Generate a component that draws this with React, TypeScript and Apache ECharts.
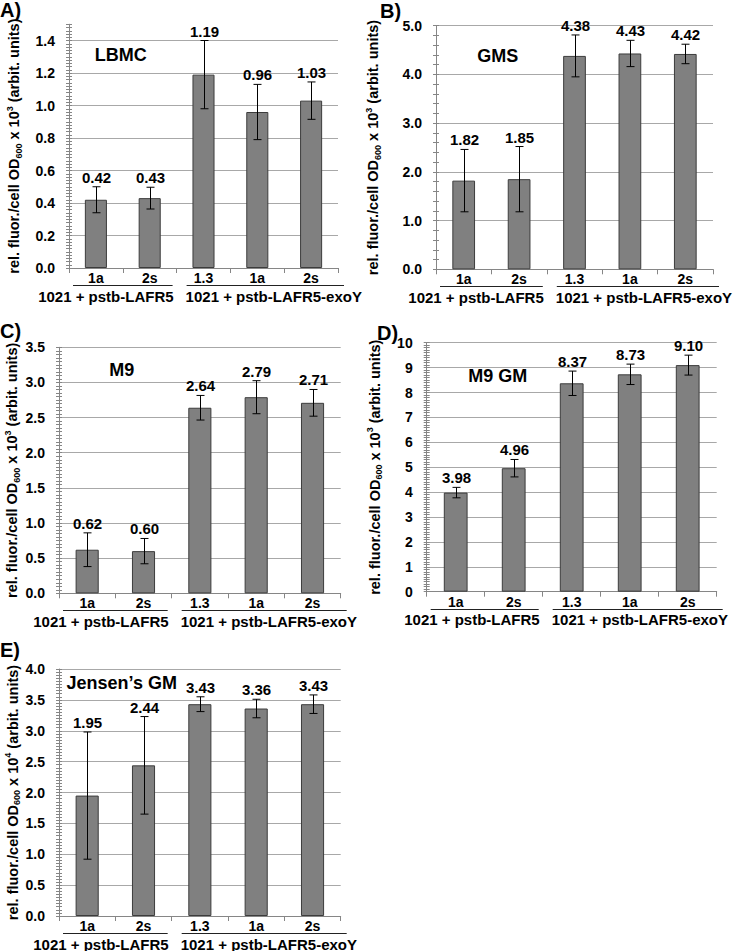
import React, { useEffect, useRef } from "react";
import * as echarts from "echarts";

// ---------- data ----------
const categories = ["1a", "2s", "1.3", "1a", "2s"];
const groupLabels = ["1021 + pstb-LAFR5", "1021 + pstb-LAFR5-exoY"];
const panelLetters = ["A)", "B)", "C)", "D)", "E)"];
const mediumNames = ["LBMC", "GMS", "M9", "M9 GM", "Jensen\u2019s GM"];

const lbmcValues = [0.42, 0.43, 1.19, 0.96, 1.03];
const lbmcErrors = [0.08, 0.067, 0.21, 0.17, 0.115];
const gmsValues = [1.82, 1.85, 4.38, 4.43, 4.42];
const gmsErrors = [0.64, 0.67, 0.43, 0.27, 0.2];
const m9Values = [0.62, 0.6, 2.64, 2.79, 2.71];
const m9Errors = [0.24, 0.18, 0.175, 0.235, 0.19];
const m9gmValues = [3.98, 4.96, 8.37, 8.73, 9.1];
const m9gmErrors = [0.21, 0.35, 0.49, 0.41, 0.4];
const jensenValues = [1.95, 2.44, 3.43, 3.36, 3.43];
const jensenErrors = [1.03, 0.79, 0.12, 0.15, 0.15];

const yMaxes = [1.5, 5, 3.5, 10, 4];
const yMajorSteps = [0.2, 1, 0.5, 1, 0.5];
const yMinorSteps = [0.02, 0.2, 0.05, 0.1, 0.05];
const yDecimals = [1, 1, 1, 0, 1];
const yExponents = ["3", "3", "3", "3", "4"];

const seriesValues = [lbmcValues, gmsValues, m9Values, m9gmValues, jensenValues];
const seriesErrors = [lbmcErrors, gmsErrors, m9Errors, m9gmErrors, jensenErrors];

// ---------- layout ----------
const FONT = '"Liberation Sans", Arial, Helvetica, sans-serif';
const AXIS_COLOR = "#868686";
const GRID_COLOR = "#a8a8a8";

const layouts = [
  { left: 69, top: 24.25, width: 269, height: 243.75, nameGap: 46, letter: [0, 10], title: [120.7, 55] },
  { left: 436, top: 25.7, width: 277, height: 243.6, nameGap: 54, letter: [380, 11], title: [497.7, 56] },
  { left: 59, top: 347.3, width: 281.7, height: 246, nameGap: 38, letter: [0, 331], title: [121.7, 370] },
  { left: 426.7, top: 342.7, width: 290, height: 249, nameGap: 43, letter: [377, 333], title: [497.7, 376] },
  { left: 59, top: 669, width: 281.7, height: 247, nameGap: 37, letter: [0, 650], title: [121.7, 683] },
];

function buildOption() {
  const grid: any[] = [];
  const xAxis: any[] = [];
  const yAxis: any[] = [];
  const series: any[] = [];
  const graphic: any[] = [];
  const ids = categories.map((_, i) => "c" + i);

  layouts.forEach((L, p) => {
    grid.push({ left: L.left, top: L.top, width: L.width, height: L.height, containLabel: false });
    xAxis.push({
      type: "category",
      gridIndex: p,
      data: ids,
      axisLine: { show: true, lineStyle: { color: AXIS_COLOR, width: 1 } },
      axisTick: { show: true, alignWithLabel: false, length: 5, lineStyle: { color: AXIS_COLOR } },
      axisLabel: {
        margin: 3,
        color: "#000",
        fontFamily: FONT,
        fontWeight: "bold",
        fontSize: 14,
        formatter: (_v: string, idx: number) => categories[idx],
      },
      splitLine: { show: false },
    });
    // main y axis: labels, gridlines, axis line
    yAxis.push({
      type: "value",
      gridIndex: p,
      position: "left",
      min: 0,
      max: yMaxes[p],
      interval: yMajorSteps[p],
      name: "rel. fluor./cell OD{sub|600} x 10{sup|" + yExponents[p] + "} (arbit. units)",
      nameLocation: "middle",
      nameGap: L.nameGap,
      nameTextStyle: {
        fontFamily: FONT,
        fontWeight: "bold",
        fontSize: 14.5,
        color: "#000",
        lineHeight: 18,
        rich: {
          sub: { fontFamily: FONT, fontWeight: "bold", fontSize: 9, verticalAlign: "bottom", lineHeight: 18, color: "#000" },
          sup: { fontFamily: FONT, fontWeight: "bold", fontSize: 9, verticalAlign: "top", lineHeight: 18, color: "#000" },
        },
      },
      axisLine: { show: true, lineStyle: { color: AXIS_COLOR, width: 1 } },
      axisTick: { show: false },
      axisLabel: {
        margin: 14,
        color: "#000",
        fontFamily: FONT,
        fontWeight: "bold",
        fontSize: 14,
        showMaxLabel: p !== 0,
        formatter: (v: number) => v.toFixed(yDecimals[p]),
      },
      splitLine: {
        show: true,
        showMinLine: false,
        showMaxLine: p !== 0,
        lineStyle: { color: GRID_COLOR, width: 1 },
      },
    });
    // outward ticks
    yAxis.push({
      type: "value",
      gridIndex: p,
      position: "left",
      min: 0,
      max: yMaxes[p],
      interval: yMinorSteps[p],
      axisLine: { show: false },
      axisTick: { show: true, inside: false, length: 3, lineStyle: { color: AXIS_COLOR } },
      axisLabel: { show: false },
      splitLine: { show: false },
    });
    // inward ticks
    yAxis.push({
      type: "value",
      gridIndex: p,
      position: "left",
      min: 0,
      max: yMaxes[p],
      interval: yMinorSteps[p],
      axisLine: { show: false },
      axisTick: { show: true, inside: true, length: 3, lineStyle: { color: AXIS_COLOR } },
      axisLabel: { show: false },
      splitLine: { show: false },
    });

    const mainY = p * 3;
    series.push({
      type: "bar",
      xAxisIndex: p,
      yAxisIndex: mainY,
      data: seriesValues[p],
      barWidth: "41%",
      itemStyle: { color: "#808080", borderColor: "#3c3c3c", borderWidth: 1 },
      silent: true,
    });
    series.push({
      type: "custom",
      xAxisIndex: p,
      yAxisIndex: mainY,
      coordinateSystem: "cartesian2d",
      data: seriesValues[p].map((v, i) => [i, v, seriesErrors[p][i]]),
      encode: { x: 0, y: 1 },
      z: 5,
      silent: true,
      renderItem: (_params: any, api: any) => {
        const idx = api.value(0);
        const v = api.value(1);
        const e = api.value(2);
        const top = api.coord([idx, v + e]);
        const bot = api.coord([idx, v - e]);
        const x = Math.round(top[0]) + 0.5;
        const cap = 4;
        const st = { stroke: "#000", lineWidth: 1 };
        return {
          type: "group",
          children: [
            { type: "line", shape: { x1: x, y1: top[1], x2: x, y2: bot[1] }, style: st },
            { type: "line", shape: { x1: x - cap, y1: top[1], x2: x + cap, y2: top[1] }, style: st },
            { type: "line", shape: { x1: x - cap, y1: bot[1], x2: x + cap, y2: bot[1] }, style: st },
            {
              type: "text",
              style: {
                text: v.toFixed(2),
                x: x,
                y: top[1] - 2,
                align: "center",
                verticalAlign: "bottom",
                fontFamily: FONT,
                fontWeight: "bold",
                fontSize: 15,
                fill: "#000",
              },
            },
          ],
        };
      },
    });

    // decorations
    const axisY = L.top + L.height;
    const boundary = L.left + (L.width * 2) / 5;
    const lineY = Math.round(axisY + 17) + 0.5;
    graphic.push({
      type: "text",
      x: L.letter[0],
      y: L.letter[1],
      style: { text: panelLetters[p], fontFamily: FONT, fontWeight: "bold", fontSize: 20, fill: "#000", align: "left", verticalAlign: "middle" },
    });
    graphic.push({
      type: "text",
      x: L.title[0],
      y: L.title[1],
      style: { text: mediumNames[p], fontFamily: FONT, fontWeight: "bold", fontSize: 18, fill: "#000", align: "center", verticalAlign: "middle" },
    });
    graphic.push({
      type: "line",
      shape: { x1: L.left + 4, y1: lineY, x2: boundary - 4, y2: lineY },
      style: { stroke: "#222", lineWidth: 1 },
    });
    graphic.push({
      type: "line",
      shape: { x1: boundary + 10, y1: lineY, x2: L.left + L.width + 6, y2: lineY },
      style: { stroke: "#222", lineWidth: 1 },
    });
    graphic.push({
      type: "text",
      x: boundary - 3,
      y: axisY + 28,
      style: { text: groupLabels[0], fontFamily: FONT, fontWeight: "bold", fontSize: 15, fill: "#000", align: "right", verticalAlign: "middle" },
    });
    graphic.push({
      type: "text",
      x: boundary + 9,
      y: axisY + 28,
      style: { text: groupLabels[1], fontFamily: FONT, fontWeight: "bold", fontSize: 15, fill: "#000", align: "left", verticalAlign: "middle" },
    });
  });

  return {
    animation: false,
    backgroundColor: "#ffffff",
    grid,
    xAxis,
    yAxis,
    series,
    graphic,
  };
}

export default function App() {
  const ref = useRef<HTMLDivElement>(null);
  useEffect(() => {
    if (!ref.current) return;
    const chart = echarts.init(ref.current, undefined, { renderer: "svg" });
    chart.setOption(buildOption() as any);
    return () => {
      chart.dispose();
    };
  }, []);
  return (
    <div
      ref={ref}
      style={{ position: "absolute", left: 0, top: 0, width: 733, height: 951, background: "#fff" }}
    />
  );
}
